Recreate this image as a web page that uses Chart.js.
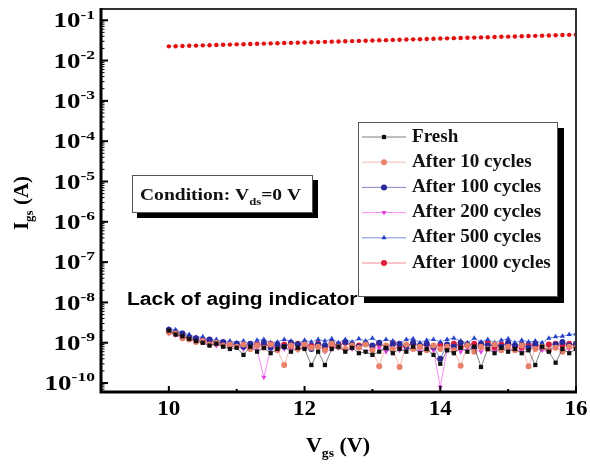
<!DOCTYPE html>
<html>
<head>
<meta charset="utf-8">
<script src="https://cdn.jsdelivr.net/npm/chart.js@4.4.1/dist/chart.umd.min.js"></script>
<style>
  html, body { margin: 0; padding: 0; background: #fff; }
  #wrap { width: 590px; height: 464px; }
</style>
</head>
<body>
<div id="wrap"><canvas id="igs" width="590" height="464"></canvas></div>
<script>
// Gate voltage (V)
const vgs = [
  10.0, 10.1, 10.2, 10.3, 10.4, 10.5, 10.6, 10.7, 10.8, 10.9,
  11.0, 11.1, 11.2, 11.3, 11.4, 11.5, 11.6, 11.7, 11.8, 11.9,
  12.0, 12.1, 12.2, 12.3, 12.4, 12.5, 12.6, 12.7, 12.8, 12.9,
  13.0, 13.1, 13.2, 13.3, 13.4, 13.5, 13.6, 13.7, 13.8, 13.9,
  14.0, 14.1, 14.2, 14.3, 14.4, 14.5, 14.6, 14.7, 14.8, 14.9,
  15.0, 15.1, 15.2, 15.3, 15.4, 15.5, 15.6, 15.7, 15.8, 15.9,
  16.0
];

// gate leakage, in nA
const freshNA = [
  2.0, 1.6, 1.45, 1.25, 1.1, 1.0, 0.85, 0.95, 0.8, 0.7,
  0.75, 0.5, 0.8, 0.6, 0.75, 0.55, 0.7, 0.8, 0.6, 0.75,
  0.7, 0.28, 0.6, 0.28, 0.7, 0.8, 0.6, 0.75, 0.55, 0.6,
  0.5, 0.6, 0.75, 0.55, 0.7, 0.6, 0.8, 0.55, 0.7, 0.5,
  0.3, 0.65, 0.55, 0.75, 0.6, 0.8, 0.25, 0.7, 0.55, 0.75,
  0.6, 0.7, 0.55, 0.65, 0.28, 0.8, 0.6, 0.32, 0.7, 0.55,
  0.7
];
const after10NA = [
  1.8, 1.7, 1.3, 1.2, 1.05, 1.1, 0.9, 1.0, 0.85, 0.9,
  0.8, 0.9, 0.7, 0.85, 0.75, 0.9, 0.65, 0.28, 0.85, 0.7,
  0.9, 0.75, 0.8, 0.65, 0.95, 0.8, 0.7, 0.85, 0.75, 0.9,
  0.65, 0.26, 0.85, 0.7, 0.25, 0.9, 0.7, 0.8, 0.65, 0.85,
  0.7, 0.8, 0.65, 0.27, 0.85, 0.6, 0.8, 0.7, 0.9, 0.65,
  0.8, 0.65, 0.85, 0.26, 0.7, 0.8, 0.65, 0.75, 0.6, 0.8,
  0.75
];
const after100NA = [
  2.1, 1.8, 1.7, 1.35, 1.3, 1.15, 1.2, 1.0, 1.05, 0.9,
  0.95, 0.8, 0.95, 0.85, 1.0, 0.75, 0.9, 0.8, 1.0, 0.9,
  0.95, 0.7, 0.9, 0.85, 1.0, 0.8, 1.05, 0.9, 0.8, 0.95,
  0.85, 1.0, 0.75, 0.9, 0.95, 0.8, 1.0, 0.85, 0.95, 0.8,
  0.4, 0.9, 0.8, 1.0, 0.9, 0.75, 0.95, 0.85, 0.9, 0.8,
  1.0, 0.85, 0.9, 0.75, 0.95, 0.8, 0.65, 0.9, 1.05, 0.85,
  0.95
];
const after200NA = [
  1.7, 1.55, 1.3, 1.25, 1.05, 1.1, 0.95, 0.85, 0.95, 0.8,
  0.85, 0.7, 0.8, 0.65, 0.14, 0.7, 0.85, 0.7, 0.75, 0.65,
  0.75, 0.7, 0.85, 0.6, 0.7, 0.75, 0.65, 0.7, 0.8, 0.6,
  0.7, 0.75, 0.6, 0.8, 0.65, 0.7, 0.75, 0.6, 0.8, 0.65,
  0.08, 0.65, 0.8, 0.6, 0.75, 0.7, 0.6, 0.8, 0.6, 0.75,
  0.7, 0.65, 0.6, 0.75, 0.7, 0.65, 0.6, 0.8, 0.65, 0.7,
  0.8
];
const after500NA = [
  2.2, 2.1, 1.75, 1.6, 1.35, 1.4, 1.15, 1.2, 1.05, 1.1,
  1.0, 1.1, 0.9, 1.15, 1.2, 1.0, 1.05, 1.2, 1.1, 0.95,
  1.15, 1.05, 1.2, 1.1, 1.25, 1.0, 1.2, 1.05, 1.25, 1.1,
  1.3, 1.0, 1.2, 1.1, 0.95, 1.2, 1.25, 1.0, 1.15, 1.2,
  1.05, 1.2, 1.3, 1.1, 1.0, 1.3, 1.05, 1.2, 1.0, 1.15,
  1.25, 1.0, 1.15, 1.05, 1.1, 1.0, 1.3, 1.4, 1.45, 1.6,
  1.65
];
const after1000NA = [
  1.9, 1.65, 1.5, 1.25, 1.25, 1.05, 1.1, 0.95, 1.0, 0.85,
  0.9, 0.85, 0.75, 0.9, 0.85, 0.95, 0.75, 0.9, 0.8, 0.95,
  0.8, 0.85, 0.95, 0.75, 0.85, 0.9, 1.0, 0.8, 0.85, 0.95,
  0.8, 0.95, 0.75, 1.0, 0.8, 0.85, 0.95, 0.8, 0.9, 0.75,
  0.9, 0.75, 0.95, 0.8, 0.85, 0.95, 0.8, 1.0, 0.75, 0.9,
  0.95, 0.8, 0.75, 0.9, 0.85, 0.75, 0.9, 0.95, 0.85, 0.95,
  0.85
];
// upper red trace, in A
const upperA = [
  0.0225, 0.0227, 0.0230, 0.0232, 0.0235, 0.0238, 0.0240, 0.0243, 0.0246, 0.0249,
  0.0252, 0.0254, 0.0257, 0.0260, 0.0263, 0.0266, 0.0269, 0.0272, 0.0275, 0.0278,
  0.0281, 0.0284, 0.0287, 0.0291, 0.0294, 0.0297, 0.0301, 0.0304, 0.0307, 0.0311,
  0.0314, 0.0318, 0.0321, 0.0325, 0.0328, 0.0332, 0.0336, 0.0339, 0.0343, 0.0347,
  0.0351, 0.0355, 0.0359, 0.0363, 0.0367, 0.0371, 0.0375, 0.0379, 0.0383, 0.0388,
  0.0392, 0.0396, 0.0401, 0.0405, 0.0410, 0.0415, 0.0419, 0.0424, 0.0429, 0.0434,
  0.0439
];

const seriesNames = ['Fresh', 'After 10 cycles', 'After 100 cycles', 'After 200 cycles', 'After 500 cycles', 'After 1000 cycles'];
const xTicks = [10, 12, 14, 16];
const yDecades = [-10, -9, -8, -7, -6, -5, -4, -3, -2, -1];

const SERIF = "'Liberation Serif', 'Times New Roman', serif";

function toPoints(arr, scale) {
    return arr.map((v, i) => ({ x: vgs[i], y: v * scale }));
}

const styles = [
    { color: '#111111', line: 'rgba(40,40,40,0.6)', shape: 'rect', rot: 0 },
    { color: '#e8806a', line: 'rgba(240,140,130,0.6)', shape: 'circle', rot: 0 },
    { color: '#2a2a9a', line: 'rgba(50,50,170,0.6)', shape: 'circle', rot: 0 },
    { color: '#e040e0', line: 'rgba(240,90,240,0.7)', shape: 'triangle', rot: 180 },
    { color: '#2440c8', line: 'rgba(40,70,210,0.6)', shape: 'triangle', rot: 0 },
    { color: '#d81e3c', line: 'rgba(230,60,80,0.6)', shape: 'circle', rot: 0 }
];
const noiseData = [freshNA, after10NA, after100NA, after200NA, after500NA, after1000NA];

const datasets = noiseData.map((arr, i) => ({
    label: seriesNames[i],
    data: toPoints(arr, 1e-9),
    borderColor: styles[i].line,
    backgroundColor: styles[i].color,
    borderWidth: 1,
    pointRadius: 3,
    pointStyle: styles[i].shape,
    pointRotation: styles[i].rot,
    pointBorderWidth: 0,
    tension: 0
}));
datasets.push({
    label: 'upper',
    data: toPoints(upperA, 1),
    borderColor: 'rgba(255,150,150,0.6)',
    backgroundColor: '#e01010',
    borderWidth: 1,
    pointRadius: 2.2,
    pointBorderWidth: 0,
    tension: 0
});

// draws text pieces one after another; each piece: [text, font, dy], sx = horizontal stretch
function drawSubText(ctx, x, y, parts, sx) {
    sx = sx || 1;
    let cx = x;
    parts.forEach(p => {
        ctx.font = p[1];
        ctx.save();
        ctx.translate(cx, y + p[2]);
        ctx.scale(sx, 1);
        ctx.fillText(p[0], 0, 0);
        ctx.restore();
        cx += ctx.measureText(p[0]).width * sx;
    });
    return cx;
}
function partsWidth(ctx, parts, sx) {
    let w = 0;
    parts.forEach(p => { ctx.font = p[1]; w += ctx.measureText(p[0]).width; });
    return w * (sx || 1);
}

const framePlugin = {
    id: 'frame',
    afterDraw(chart) {
        const { ctx, chartArea: a, scales } = chart;
        const xs = scales.x, ys = scales.y;
        ctx.save();
        ctx.fillStyle = '#000';
        ctx.strokeStyle = '#000';

        // frame
        ctx.lineWidth = 2;
        ctx.strokeStyle = '#333';
        ctx.beginPath();
        ctx.moveTo(a.left, a.top); ctx.lineTo(a.right, a.top); ctx.lineTo(a.right, a.bottom);
        ctx.stroke();
        ctx.strokeStyle = '#000';
        ctx.lineWidth = 3;
        ctx.beginPath();
        ctx.moveTo(a.left, a.top - 1); ctx.lineTo(a.left, a.bottom); ctx.lineTo(a.right + 1, a.bottom);
        ctx.stroke();

        // x ticks
        ctx.lineWidth = 2;
        [10, 11, 12, 13, 14, 15, 16].forEach(v => {
            const px = xs.getPixelForValue(v);
            const len = v % 2 === 0 ? 6 : 3;
            ctx.beginPath(); ctx.moveTo(px, a.bottom); ctx.lineTo(px, a.bottom - len); ctx.stroke();
        });
        ctx.textAlign = 'left';
        ctx.textBaseline = 'middle';
        xTicks.forEach(v => {
            const parts = [[String(v), 'bold 21px ' + SERIF, 0]];
            const w = partsWidth(ctx, parts, 1.1);
            drawSubText(ctx, xs.getPixelForValue(v) - w / 2, a.bottom + 18, parts, 1.1);
        });

        // y ticks
        yDecades.forEach(d => {
            const py = ys.getPixelForValue(Math.pow(10, d));
            ctx.lineWidth = 2;
            ctx.beginPath(); ctx.moveTo(a.left, py); ctx.lineTo(a.left + 7, py); ctx.stroke();
            ctx.lineWidth = 1;
            for (let m = 2; m <= 9; m++) {
                const pm = ys.getPixelForValue(m * Math.pow(10, d));
                if (pm < a.top) continue;
                ctx.beginPath(); ctx.moveTo(a.left, pm); ctx.lineTo(a.left + 3.5, pm); ctx.stroke();
            }
            for (let m = 6; m <= 9; m++) {
                const pm = ys.getPixelForValue(m * Math.pow(10, d - 1));
                if (pm > a.bottom || d !== -10) continue;
                ctx.beginPath(); ctx.moveTo(a.left, pm); ctx.lineTo(a.left + 3.5, pm); ctx.stroke();
            }
        });
        yDecades.forEach(d => {
            const py = ys.getPixelForValue(Math.pow(10, d));
            const parts = [['10', 'bold 20px ' + SERIF, 2], [String(d), 'bold 13px ' + SERIF, -5]];
            const w = partsWidth(ctx, parts, 1.35);
            drawSubText(ctx, 95 - w, py, parts, 1.35);
        });

        // axis titles
        ctx.textBaseline = 'alphabetic';
        const xt = [['V', 'bold 21px ' + SERIF, 0], ['gs', 'bold 13px ' + SERIF, 5], [' (V)', 'bold 21px ' + SERIF, 0]];
        drawSubText(ctx, 338 - partsWidth(ctx, xt, 1.05) / 2, 452, xt, 1.05);
        ctx.save();
        ctx.translate(28, 203);
        ctx.rotate(-Math.PI / 2);
        const yt = [['I', 'bold 21px ' + SERIF, 0], ['gs', 'bold 13px ' + SERIF, 5], [' (A)', 'bold 21px ' + SERIF, 0]];
        drawSubText(ctx, -partsWidth(ctx, yt) / 2, 0, yt);
        ctx.restore();

        // condition box
        ctx.fillStyle = '#000';
        ctx.fillRect(137, 180, 181, 38);
        ctx.fillStyle = '#fff';
        ctx.fillRect(132, 175, 181, 38);
        ctx.lineWidth = 1;
        ctx.strokeStyle = '#555';
        ctx.strokeRect(132.5, 175.5, 180, 37);
        ctx.fillStyle = '#111';
        drawSubText(ctx, 140, 200, [['Condition: V', 'bold 17px ' + SERIF, 0], ['ds', 'bold 11px ' + SERIF, 5], ['=0 V', 'bold 17px ' + SERIF, 0]], 1.15);

        // legend box
        ctx.fillStyle = '#000';
        ctx.fillRect(364, 128, 200, 175);
        ctx.fillStyle = '#fff';
        ctx.fillRect(358, 122, 200, 175);
        ctx.strokeStyle = '#555';
        ctx.strokeRect(358.5, 122.5, 199, 174);
        seriesNames.forEach((name, i) => {
            const ry = 137 + i * 25.2;
            ctx.strokeStyle = styles[i].line;
            ctx.lineWidth = 1;
            ctx.beginPath(); ctx.moveTo(362, ry); ctx.lineTo(406, ry); ctx.stroke();
            ctx.fillStyle = styles[i].color;
            Chart.helpers.drawPoint(ctx, { pointStyle: styles[i].shape, rotation: styles[i].rot, radius: 3, borderWidth: 0 }, 384, ry);
            ctx.fillStyle = '#111';
            ctx.textBaseline = 'middle';
            drawSubText(ctx, 412, ry, [[name, 'bold 18px ' + SERIF, 0]], 1.06);
        });

        // annotation
        ctx.fillStyle = '#000';
        ctx.textBaseline = 'alphabetic';
        drawSubText(ctx, 127, 305, [['Lack of aging indicator', "bold 18px 'Liberation Sans', Arial, sans-serif", 0]], 1.17);

        ctx.restore();
    }
};

new Chart(document.getElementById('igs'), {
    type: 'line',
    data: { datasets: datasets },
    options: {
        responsive: false,
        animation: false,
        layout: { padding: { top: 9, right: 14, left: 0, bottom: 0 } },
        plugins: { legend: { display: false }, tooltip: { enabled: false } },
        scales: {
            x: {
                type: 'linear', min: 9, max: 16,
                grid: { display: false }, border: { display: false },
                ticks: { display: false },
                afterFit: s => { s.height = 72; }
            },
            y: {
                type: 'logarithmic', min: 6e-11, max: 0.19,
                grid: { display: false }, border: { display: false },
                ticks: { display: false },
                afterFit: s => { s.width = 101; }
            }
        }
    },
    plugins: [framePlugin]
});
</script>
</body>
</html>
